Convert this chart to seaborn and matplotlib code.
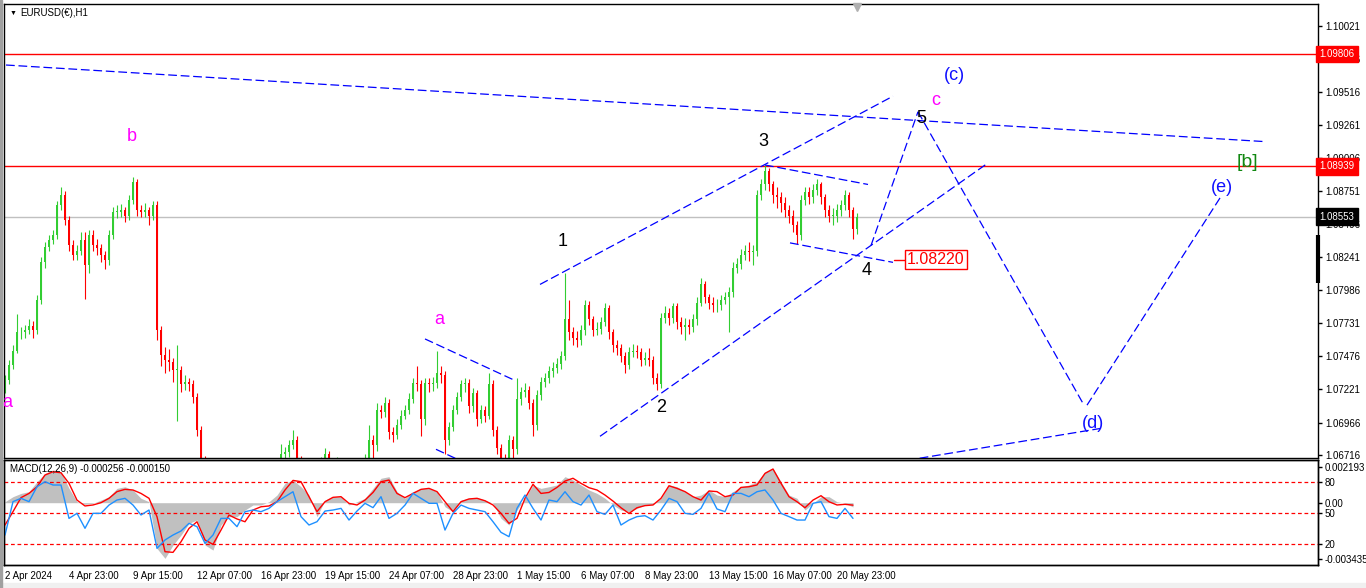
import numpy as np
import pandas as pd
import matplotlib
matplotlib.use("Agg")
import matplotlib.pyplot as plt
from matplotlib.patches import Rectangle
import seaborn as sns

first_open = 1.0722
close = [
    1.0729, 1.0741, 1.0752, 1.0766, 1.0766, 1.0768, 1.0771, 1.0768, 1.0791, 1.0820,
    1.0832, 1.0837, 1.0841, 1.0864, 1.0872, 1.0853, 1.0833, 1.0826, 1.0829, 1.0837,
    1.0818, 1.0841, 1.0833, 1.0831, 1.0826, 1.0822, 1.0841, 1.0859, 1.0859, 1.0860,
    1.0856, 1.0868, 1.0882, 1.0860, 1.0859, 1.0860, 1.0856, 1.0864, 1.0768, 1.0749,
    1.0745, 1.0743, 1.0737, 1.0737, 1.0726, 1.0728, 1.0726, 1.0716, 1.0691, 1.0668,
    1.0652, 1.0645, 1.0637, 1.0629, 1.0622, 1.0614, 1.0610, 1.0606, 1.0602, 1.0606,
    1.0614, 1.0622, 1.0625, 1.0629, 1.0633, 1.0637, 1.0641, 1.0652, 1.0660, 1.0672,
    1.0674, 1.0679, 1.0683, 1.0668, 1.0656, 1.0652, 1.0654, 1.0656, 1.0660, 1.0666,
    1.0672, 1.0662, 1.0660, 1.0666, 1.0660, 1.0656, 1.0654, 1.0656, 1.0659, 1.0662,
    1.0668, 1.0683, 1.0679, 1.0706, 1.0705, 1.0712, 1.0689, 1.0687, 1.0695, 1.0702,
    1.0706, 1.0715, 1.0727, 1.0726, 1.0699, 1.0727, 1.0726, 1.0727, 1.0735, 1.0733,
    1.0683, 1.0693, 1.0706, 1.0716, 1.0726, 1.0727, 1.0709, 1.0719, 1.0699, 1.0706,
    1.0702, 1.0726, 1.0691, 1.0677, 1.0669, 1.0666, 1.0683, 1.0676, 1.0715, 1.0720,
    1.0722, 1.0712, 1.0695, 1.0718, 1.0728, 1.0731, 1.0736, 1.0739, 1.0742, 1.0748,
    1.0776, 1.0766, 1.0762, 1.0760, 1.0768, 1.0787, 1.0776, 1.0768, 1.0769, 1.0774,
    1.0785, 1.0766, 1.0756, 1.0754, 1.0748, 1.0741, 1.0751, 1.0752, 1.0751, 1.0745,
    1.0746, 1.0745, 1.0731, 1.0726, 1.0777, 1.0781, 1.0777, 1.0786, 1.0774, 1.0770,
    1.0772, 1.0770, 1.0776, 1.0789, 1.0803, 1.0793, 1.0789, 1.0787, 1.0787, 1.0791,
    1.0793, 1.0797, 1.0816, 1.0819, 1.0826, 1.0829, 1.0828, 1.0829, 1.0872, 1.0880,
    1.0890, 1.0880, 1.0872, 1.0870, 1.0866, 1.0860, 1.0856, 1.0849, 1.0841, 1.0868,
    1.0874, 1.0870, 1.0876, 1.0880, 1.0870, 1.0860, 1.0856, 1.0856, 1.0860, 1.0864,
    1.0872, 1.0860, 1.0846, 1.0855,
]
high = [
    1.0733, 1.0745, 1.0756, 1.0780, 1.0770, 1.0772, 1.0776, 1.0775, 1.0795, 1.0824,
    1.0836, 1.0841, 1.0845, 1.0867, 1.0878, 1.0875, 1.0856, 1.0837, 1.0833, 1.0843,
    1.0843, 1.0845, 1.0845, 1.0838, 1.0834, 1.0829, 1.0845, 1.0863, 1.0864, 1.0865,
    1.0863, 1.0872, 1.0886, 1.0884, 1.0864, 1.0866, 1.0863, 1.0867, 1.0867, 1.0771,
    1.0755, 1.0753, 1.0746, 1.0756, 1.0740, 1.0733, 1.0731, 1.0729, 1.0719, 1.0694,
    1.0671, 1.0656, 1.0649, 1.0641, 1.0633, 1.0626, 1.0618, 1.0614, 1.0610, 1.0610,
    1.0618, 1.0626, 1.0629, 1.0633, 1.0637, 1.0641, 1.0645, 1.0656, 1.0664, 1.0680,
    1.0678, 1.0683, 1.0691, 1.0686, 1.0671, 1.0660, 1.0658, 1.0660, 1.0664, 1.0670,
    1.0677, 1.0675, 1.0666, 1.0670, 1.0668, 1.0663, 1.0660, 1.0660, 1.0663, 1.0666,
    1.0672, 1.0695, 1.0687, 1.0712, 1.0710, 1.0716, 1.0715, 1.0693, 1.0699, 1.0706,
    1.0710, 1.0719, 1.0731, 1.0740, 1.0729, 1.0731, 1.0731, 1.0732, 1.0752, 1.0740,
    1.0736, 1.0697, 1.0710, 1.0720, 1.0729, 1.0731, 1.0730, 1.0723, 1.0722, 1.0710,
    1.0709, 1.0735, 1.0729, 1.0694, 1.0680, 1.0672, 1.0687, 1.0686, 1.0731, 1.0724,
    1.0727, 1.0725, 1.0715, 1.0722, 1.0732, 1.0735, 1.0740, 1.0743, 1.0746, 1.0752,
    1.0812, 1.0791, 1.0770, 1.0767, 1.0772, 1.0791, 1.0790, 1.0779, 1.0774, 1.0778,
    1.0789, 1.0787, 1.0769, 1.0760, 1.0757, 1.0751, 1.0755, 1.0757, 1.0756, 1.0754,
    1.0751, 1.0754, 1.0748, 1.0735, 1.0781, 1.0786, 1.0785, 1.0789, 1.0789, 1.0778,
    1.0777, 1.0776, 1.0780, 1.0793, 1.0808, 1.0806, 1.0796, 1.0793, 1.0792, 1.0795,
    1.0797, 1.0801, 1.0820, 1.0823, 1.0830, 1.0833, 1.0836, 1.0833, 1.0876, 1.0884,
    1.0895, 1.0893, 1.0883, 1.0878, 1.0874, 1.0870, 1.0864, 1.0860, 1.0852, 1.0872,
    1.0878, 1.0878, 1.0880, 1.0884, 1.0882, 1.0873, 1.0864, 1.0862, 1.0865, 1.0868,
    1.0876, 1.0874, 1.0863, 1.0858,
]
low = [
    1.0719, 1.0726, 1.0738, 1.0750, 1.0761, 1.0762, 1.0765, 1.0762, 1.0765, 1.0788,
    1.0816, 1.0829, 1.0834, 1.0838, 1.0860, 1.0849, 1.0829, 1.0822, 1.0822, 1.0826,
    1.0792, 1.0812, 1.0829, 1.0826, 1.0820, 1.0815, 1.0818, 1.0838, 1.0854, 1.0855,
    1.0851, 1.0853, 1.0865, 1.0856, 1.0855, 1.0855, 1.0849, 1.0853, 1.0760, 1.0740,
    1.0735, 1.0736, 1.0728, 1.0698, 1.0720, 1.0722, 1.0721, 1.0712, 1.0686, 1.0664,
    1.0648, 1.0640, 1.0632, 1.0624, 1.0617, 1.0609, 1.0605, 1.0601, 1.0598, 1.0599,
    1.0603, 1.0611, 1.0618, 1.0621, 1.0625, 1.0629, 1.0633, 1.0638, 1.0648, 1.0657,
    1.0668, 1.0670, 1.0676, 1.0663, 1.0651, 1.0647, 1.0648, 1.0650, 1.0652, 1.0656,
    1.0662, 1.0657, 1.0655, 1.0656, 1.0655, 1.0651, 1.0649, 1.0650, 1.0652, 1.0655,
    1.0658, 1.0665, 1.0668, 1.0675, 1.0700, 1.0701, 1.0684, 1.0682, 1.0684, 1.0692,
    1.0699, 1.0703, 1.0712, 1.0721, 1.0686, 1.0695, 1.0720, 1.0721, 1.0723, 1.0727,
    1.0672, 1.0679, 1.0690, 1.0703, 1.0713, 1.0720, 1.0704, 1.0705, 1.0694, 1.0696,
    1.0697, 1.0699, 1.0686, 1.0672, 1.0664, 1.0660, 1.0662, 1.0668, 1.0672, 1.0710,
    1.0716, 1.0707, 1.0686, 1.0691, 1.0714, 1.0724, 1.0727, 1.0732, 1.0735, 1.0738,
    1.0745, 1.0760, 1.0756, 1.0755, 1.0756, 1.0764, 1.0772, 1.0763, 1.0764, 1.0765,
    1.0771, 1.0761, 1.0751, 1.0749, 1.0743, 1.0735, 1.0738, 1.0747, 1.0746, 1.0740,
    1.0741, 1.0740, 1.0726, 1.0722, 1.0723, 1.0773, 1.0772, 1.0773, 1.0769, 1.0765,
    1.0760, 1.0765, 1.0766, 1.0772, 1.0786, 1.0789, 1.0784, 1.0782, 1.0782, 1.0783,
    1.0788, 1.0766, 1.0793, 1.0812, 1.0815, 1.0822, 1.0821, 1.0818, 1.0825, 1.0868,
    1.0876, 1.0875, 1.0866, 1.0862, 1.0859, 1.0855, 1.0850, 1.0843, 1.0834, 1.0837,
    1.0864, 1.0865, 1.0866, 1.0872, 1.0865, 1.0855, 1.0851, 1.0849, 1.0851, 1.0856,
    1.0860, 1.0855, 1.0838, 1.0842,
]

# MACD(12,26,9) panel, sampled every 8 hours
macd_main = [
    0.00006, 0.00037, 0.00057, 0.00068, 0.00129, 0.00180, 0.00201, 0.00190, 0.00088, 0.00006,
    -0.00010, -0.00004, 0.00016, 0.00037, 0.00088, 0.00098, 0.00078, 0.00027, 0.00006, -0.00281,
    -0.00342, -0.00260, -0.00199, -0.00127, -0.00106, -0.00260, -0.00291, -0.00137, -0.00086, -0.00086,
    -0.00045, -0.00014, -0.00014, 0.00006, 0.00047, 0.00119, 0.00139, 0.00098, 0.00047, -0.00086,
    0.00016, 0.00037, 0.00037, -0.00014, 0.00006, 0.00027, 0.00088, 0.00150, 0.00160, 0.00068,
    0.00027, 0.00068, 0.00088, 0.00088, 0.00068, -0.00025, -0.00055, 0.00016, 0.00027, 0.00031,
    0.00016, -0.00004, -0.00096, -0.00137, -0.00045, 0.00027, 0.00109, 0.00088, 0.00098, 0.00109,
    0.00160, 0.00139, 0.00109, 0.00078, 0.00057, 0.00027, -0.00014, -0.00045, -0.00055, -0.00035,
    -0.00014, -0.00010, 0.00027, 0.00109, 0.00098, 0.00068, 0.00037, 0.00047, 0.00078, 0.00047,
    0.00037, 0.00068, 0.00098, 0.00109, 0.00129, 0.00190, 0.00211, 0.00129, 0.00047, 0.00027,
    -0.00045, -0.00004, 0.00037, 0.00037, 0.00006, -0.00004, -0.00026,
]
macd_signal = [
    -0.00137, -0.00055, 0.00031, 0.00057, 0.00098, 0.00170, 0.00190, 0.00184, 0.00119, 0.00016,
    -0.00020, -0.00014, 0.00000, 0.00027, 0.00068, 0.00082, 0.00078, 0.00057, 0.00027, -0.00086,
    -0.00301, -0.00305, -0.00240, -0.00158, -0.00117, -0.00229, -0.00256, -0.00168, -0.00076, -0.00100,
    -0.00117, -0.00045, -0.00025, -0.00020, 0.00006, 0.00078, 0.00137, 0.00129, 0.00037, -0.00055,
    0.00006, 0.00033, 0.00037, -0.00004, -0.00014, 0.00016, 0.00063, 0.00129, 0.00139, 0.00057,
    0.00031, 0.00057, 0.00082, 0.00088, 0.00068, 0.00006, -0.00055, 0.00006, 0.00023, 0.00027,
    0.00012, -0.00014, -0.00066, -0.00127, -0.00096, 0.00027, 0.00113, 0.00057, 0.00063, 0.00094,
    0.00133, 0.00150, 0.00119, 0.00092, 0.00078, 0.00047, 0.00010, -0.00031, -0.00066, -0.00031,
    -0.00018, -0.00014, 0.00027, 0.00104, 0.00088, 0.00068, 0.00037, 0.00016, 0.00072, 0.00068,
    0.00037, 0.00047, 0.00094, 0.00098, 0.00109, 0.00180, 0.00207, 0.00119, 0.00037, 0.00006,
    -0.00031, 0.00016, 0.00043, 0.00006, -0.00014, -0.00010, -0.00015,
]
# oscillator drawn in the same window (levels 20 / 50 / 80)
osc_line = [
    28.7, 61.0, 64.2, 61.0, 75.5, 80.3, 77.1, 77.1, 44.8, 49.7,
    35.2, 49.7, 49.7, 57.7, 62.6, 64.2, 57.7, 48.1, 52.9, 15.8,
    23.9, 28.7, 32.6, 40.0, 36.8, 20.6, 28.7, 44.8, 44.8, 36.8,
    51.3, 52.9, 51.3, 54.5, 61.0, 65.8, 70.6, 46.5, 38.4, 41.6,
    51.9, 52.9, 54.5, 43.2, 51.9, 59.4, 55.2, 65.8, 44.8, 49.7,
    57.7, 69.0, 64.2, 59.4, 59.4, 33.5, 49.7, 57.7, 54.5, 52.9,
    51.3, 41.6, 31.3, 27.1, 54.5, 67.4, 54.5, 43.2, 62.6, 61.0,
    70.6, 61.0, 57.7, 67.4, 51.3, 48.7, 57.7, 38.4, 43.2, 46.5,
    47.4, 43.2, 52.9, 64.2, 61.0, 49.7, 48.7, 54.5, 69.0, 53.9,
    51.3, 69.0, 69.0, 65.8, 70.6, 72.3, 62.6, 49.7, 46.5, 43.2,
    43.2, 59.4, 61.0, 46.5, 44.8, 54.5, 44.8,
]
osc_levels = [80, 50, 20]

upper_level = 1.09806
lower_level = 1.08939
bid_price = 1.08553
target_price = 1.08220

price_ticks = [1.10021, 1.09766, 1.09516, 1.09261, 1.09006, 1.08751, 1.08496,
               1.08241, 1.07986, 1.07731, 1.07476, 1.07221, 1.06966, 1.06716]
date_hours = [0, 64, 128, 192, 256, 320, 384, 448, 512, 576, 640, 704, 768, 832]
date_labels = ["2 Apr 2024", "4 Apr 23:00", "9 Apr 15:00", "12 Apr 07:00", "16 Apr 23:00",
               "19 Apr 15:00", "24 Apr 07:00", "28 Apr 23:00", "1 May 15:00", "6 May 07:00",
               "8 May 23:00", "13 May 15:00", "16 May 07:00", "20 May 23:00"]

# Elliott wave markup (hour, price)
trend_lines = [
    (1, 1.0972, 1260, 1.0913),
    (420, 1.0761, 510, 1.0729),
    (431, 1.0676, 470, 1.0662),
    (535, 1.0803, 888, 1.0948),
    (595, 1.0686, 982, 1.0896),
    (760, 1.0895, 863, 1.0880),
    (785, 1.0835, 888, 1.0820),
    (866, 1.0833, 913, 1.0936),
    (913, 1.0936, 1079, 1.0710),
    (1082, 1.0710, 1217, 1.0872),
    (890, 1.0666, 1095, 1.0692),
]
magenta_text = ["a", "b", "a", "c"]
magenta_hour = [2, 127, 434, 931]
magenta_price = [1.0712, 1.0917, 1.0776, 1.0945]
black_text = ["1", "2", "3", "4", "5"]
black_hour = [558, 656, 758, 862, 916]
black_price = [1.0836, 1.0708, 1.0913, 1.0814, 1.0931]
blue_text = ["(c)", "(d)", "(e)"]
blue_hour = [949, 1088, 1217]
blue_price = [1.0964, 1.0696, 1.0878]

sns.set_theme(style="white")
plt.rcParams["font.family"] = ["Liberation Sans", "DejaVu Sans"]

W, H = 1366, 588
fig = plt.figure(figsize=(W / 100, H / 100), dpi=100)
fig.patch.set_facecolor("white")
ax = fig.add_axes([4 / W, 1 - 458 / H, 1314 / W, 454 / H])
axm = fig.add_axes([4 / W, 1 - 565 / H, 1314 / W, 105 / H])

# candles
bars = pd.DataFrame({"close": close, "high": high, "low": low})
bars["hour"] = np.arange(len(bars)) * 4
bars["open"] = [first_open] + close[:-1]
up = bars["close"] >= bars["open"]
colors = np.where(up, "#32CD32", "#FF0000")
ax.axhline(bid_price, color="#c0c0c0", lw=1, zorder=1)
ax.axhline(upper_level, color="#FF0000", lw=1, zorder=1)
ax.axhline(lower_level, color="#FF0000", lw=1, zorder=1)
ax.vlines(bars["hour"], bars["low"], bars["high"], colors=colors, lw=0.8, zorder=2)
body_low = bars[["open", "close"]].min(axis=1)
body_h = (bars["close"] - bars["open"]).abs().clip(lower=0.00005)
ax.bar(bars["hour"], body_h, bottom=body_low, width=2.4, color=colors, lw=0, zorder=2)

for h0, p0, h1, p1 in trend_lines:
    ax.plot([h0, h1], [p0, p1], color="#0000FF", lw=0.9, ls=(0, (7, 3)), zorder=3)

for t, h, p in zip(magenta_text, magenta_hour, magenta_price):
    ax.text(h, p, t, color="#FF00FF", fontsize=13, ha="center", va="center", zorder=4)
for t, h, p in zip(black_text, black_hour, black_price):
    ax.text(h, p, t, color="black", fontsize=13, ha="center", va="center", zorder=4)
for t, h, p in zip(blue_text, blue_hour, blue_price):
    ax.text(h, p, t, color="#1010FF", fontsize=13, ha="center", va="center", zorder=4)
ax.text(1242, 1.0897, "[b]", color="#118811", fontsize=14, ha="center", va="center", zorder=4)

ax.plot([889, 901], [target_price, target_price], color="#FF0000", lw=1, zorder=4)
ax.text(902, target_price, f"{target_price:.5f}", color="#FF0000", fontsize=11.5,
        ha="left", va="center", zorder=5,
        bbox=dict(boxstyle="square,pad=0.12", fc="white", ec="#FF0000", lw=1))

ax.set_xlim(-1, 1313)
ax.set_ylim(1.06693, 1.10190)
ax.set_xticks([])
ax.yaxis.tick_right()
ax.set_yticks(price_ticks)
ax.set_yticklabels([f"{t:.5f}" for t in price_ticks])
ax.tick_params(axis="y", length=3, width=1, labelsize=7, pad=2, colors="black", direction="out")

def price_tag(y, bg):
    ax.text(1.0012, y, f"{y:.5f}", transform=ax.get_yaxis_transform(), ha="left", va="center",
            fontsize=7, color="white", clip_on=False, zorder=10,
            bbox=dict(boxstyle="square,pad=0.32", fc=bg, ec=bg))

price_tag(upper_level, "#FF0000")
price_tag(lower_level, "#FF0000")
price_tag(bid_price, "black")
ax.plot([1313, 1313], [1.0841, 1.0804], color="black", lw=3, clip_on=False,
        solid_capstyle="butt", zorder=6)
ax.plot([852], [1.1017], marker="v", color="#b0b0b0", ms=6, clip_on=False, zorder=6)

# MACD window
m_hours = np.arange(len(macd_main)) * 8
axm.fill_between(m_hours, 0, macd_main, color="#c0c0c0", lw=0, zorder=1)
sns.lineplot(x=m_hours, y=macd_signal, ax=axm, color="#FF0000", lw=1, legend=False, zorder=3)
axm.set_xlim(-1, 1313)
axm.set_ylim(-0.003827, 0.002623)
axm.set_xticks(date_hours)
axm.set_xticklabels(date_labels)
axm.tick_params(axis="x", length=3, width=1, labelsize=7, pad=1, colors="black", direction="out")
for lbl in axm.get_xticklabels():
    lbl.set_horizontalalignment("left")

axo = axm.twinx()
axo.set_ylim(-0.3, 101.3)
for lv in osc_levels:
    axo.axhline(lv, color="#FF0000", lw=0.9, ls=(0, (3, 2.2)), zorder=1)
sns.lineplot(x=m_hours, y=osc_line, ax=axo, color="#1E90FF", lw=1, legend=False, zorder=2)
axo.set_xlim(-1, 1313)
axo.set_yticks(osc_levels)
axo.set_yticklabels([str(v) for v in osc_levels])
axo.tick_params(axis="y", length=3, width=1, labelsize=7, pad=2, colors="black")
axo.set_ylabel("")
axm.set_ylabel("")

# twinx moves the original ticks to the left, so put them back on the right
axm.yaxis.tick_right()
axm.set_yticks([0.002193, 0.0, -0.003435])
axm.set_yticklabels(["0.002193", "0.00", "-0.003435"])
axm.tick_params(axis="y", length=3, width=1, labelsize=7, pad=2, colors="black")

for a in (ax, axm, axo):
    for s in a.spines.values():
        s.set_color("black")
        s.set_linewidth(1)
    a.grid(False)

fig.text(10 / W, 1 - 13 / H, "\u25BC", fontsize=5, va="center", ha="left", color="black")
fig.text(20 / W, 1 - 13 / H, "EURUSD(\u20AC),H1", fontsize=7, va="center", ha="left", color="black")
fig.text(10 / W, 1 - 469 / H, "MACD(12,26,9) -0.000256 -0.000150", fontsize=7,
         va="center", ha="left", color="black")

fig.patches.append(Rectangle((0, 0), 1, 5 / H, transform=fig.transFigure,
                             color="#f0f0f0", zorder=0))
fig.patches.append(Rectangle((0, 0), 2 / W, 1, transform=fig.transFigure,
                             color="#a0a0a0", zorder=0))

fig.savefig("out.png", dpi=100, facecolor="white")
